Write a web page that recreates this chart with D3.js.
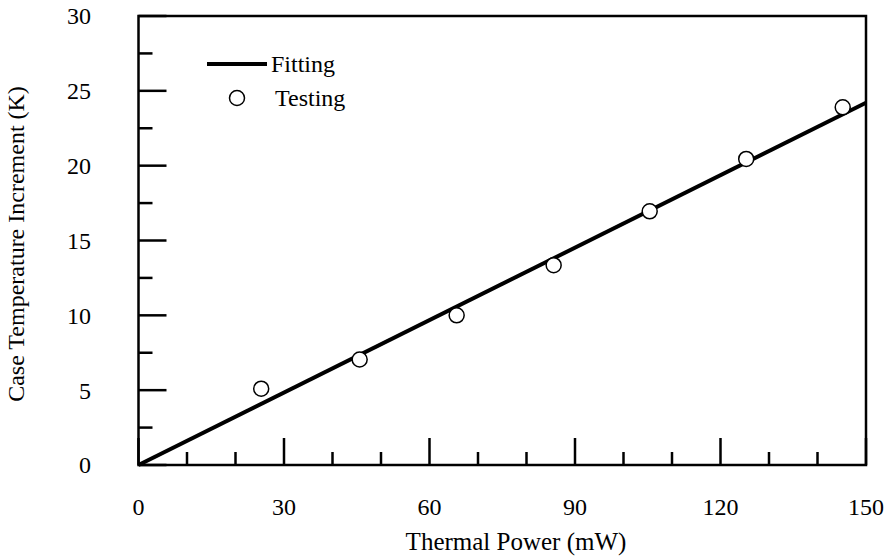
<!DOCTYPE html>
<html><head><meta charset="utf-8">
<script src="https://cdn.jsdelivr.net/npm/d3@7"></script>
<style>body{margin:0;background:#fff}svg{display:block}text{font-family:"Liberation Serif","Times New Roman",serif;fill:#000}</style>
</head><body>
<svg id="c" width="891" height="560"></svg>
<script>
const powerTest = [25.3, 45.6, 65.6, 85.6, 105.4, 125.3, 145.2];
const tempTest = [5.1, 7.05, 10.0, 13.35, 16.95, 20.45, 23.9];
const fitPower = [0, 150];
const fitTemp = [0, 24.2];
const xTicks = [0, 30, 60, 90, 120, 150];
const yTicks = [0, 5, 10, 15, 20, 25, 30];
const xMinor = d3.range(0, 151, 10);
const yMinor = d3.range(0, 30.1, 2.5);

const svg = d3.select("#c");
const L = 138.5, R = 866, T = 16, B = 465;
const x = d3.scaleLinear().domain([0, 150]).range([L, R]);
const y = d3.scaleLinear().domain([0, 30]).range([B, T]);

const g = svg.append("g");
// frame
g.append("rect").attr("x", L).attr("y", T).attr("width", R - L).attr("height", B - T)
  .attr("fill", "none").attr("stroke", "#000").attr("stroke-width", 2.5);

// x ticks (inward)
g.selectAll(".xt").data(xMinor).enter().append("line")
  .attr("x1", d => x(d)).attr("x2", d => x(d))
  .attr("y1", B).attr("y2", d => B - (d % 30 === 0 ? 27 : 13))
  .attr("stroke", "#000").attr("stroke-width", 2.5);
g.selectAll(".yt").data(yMinor).enter().append("line")
  .attr("y1", d => y(d)).attr("y2", d => y(d))
  .attr("x1", L).attr("x2", d => L + (d % 5 === 0 ? 28 : 14))
  .attr("stroke", "#000").attr("stroke-width", 2.5);

// tick labels
g.selectAll(".xl").data(xTicks).enter().append("text")
  .attr("x", d => x(d)).attr("y", 515).attr("text-anchor", "middle")
  .attr("font-size", 24).text(d => d);
g.selectAll(".yl").data(yTicks).enter().append("text")
  .attr("x", 91).attr("y", d => y(d)).attr("dy", "0.35em").attr("text-anchor", "end")
  .attr("font-size", 24).text(d => d);

// axis titles
g.append("text").attr("x", 516).attr("y", 550).attr("text-anchor", "middle")
  .attr("font-size", 25).text("Thermal Power (mW)");
g.append("text").attr("transform", "translate(24,244) rotate(-90)").attr("text-anchor", "middle")
  .attr("font-size", 24).text("Case Temperature Increment (K)");

// fit line
const line = d3.line().x(d => x(d[0])).y(d => y(d[1]));
g.append("path").datum(fitPower.map((p, i) => [p, fitTemp[i]]))
  .attr("d", line).attr("fill", "none").attr("stroke", "#000").attr("stroke-width", 4);

// points
g.selectAll(".pt").data(powerTest.map((p, i) => [p, tempTest[i]])).enter().append("circle")
  .attr("cx", d => x(d[0])).attr("cy", d => y(d[1])).attr("r", 7.5)
  .attr("fill", "#fff").attr("stroke", "#000").attr("stroke-width", 1.5);

// legend
g.append("line").attr("x1", 207).attr("x2", 267).attr("y1", 64).attr("y2", 64)
  .attr("stroke", "#000").attr("stroke-width", 4);
g.append("text").attr("x", 271).attr("y", 72).attr("font-size", 24).text("Fitting");
g.append("circle").attr("cx", 237).attr("cy", 98).attr("r", 7.5)
  .attr("fill", "#fff").attr("stroke", "#000").attr("stroke-width", 1.5);
g.append("text").attr("x", 275).attr("y", 106).attr("font-size", 24).text("Testing");
</script>
</body></html>
